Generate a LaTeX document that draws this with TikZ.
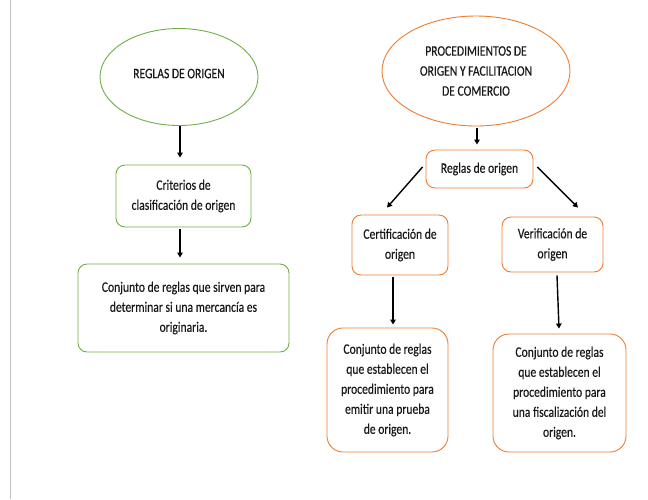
\documentclass[tikz,border=0pt]{standalone}
\usepackage{fontspec}
\setmainfont[FakeStretch=0.8,FakeBold=0.4]{Carlito}
\usetikzlibrary{shapes.geometric,arrows.meta}
\definecolor{gborder}{HTML}{70AD47}
\definecolor{oborder}{HTML}{ED7D31}
\definecolor{edgegray}{HTML}{BFBFBF}
\tikzset{
  txt/.style={font=\fontsize{14.5}{20}\selectfont, text=black!90, align=center, inner sep=0pt},
  gell/.style={txt, ellipse, draw=gborder, line width=0.9pt},
  oell/.style={txt, ellipse, draw=oborder, line width=0.9pt},
  gbox/.style={txt, rectangle, rounded corners=9pt, draw=gborder, line width=0.9pt},
  obox/.style={txt, rectangle, rounded corners=9pt, draw=oborder, line width=0.9pt},
  obig/.style={obox, rounded corners=16pt},
  arr/.style={line width=1.4pt, -{Triangle[width=5.5pt,length=5pt]}},
}
\begin{document}
\begin{tikzpicture}[x=1pt,y=-1pt]
\useasboundingbox (0,0) rectangle (648,499);
\draw[edgegray, line width=0.6pt] (10,0) -- (10,499);
% left column
\node[gell, minimum width=158pt, minimum height=97pt] (re) at (179,77) {\raisebox{7pt}{REGLAS DE ORIGEN}};
\node[gbox, minimum width=135pt, minimum height=62pt] (cr) at (183.5,196) {Criterios de\\clasificación de origen};
\node[gbox, minimum width=211pt, minimum height=88pt] (cj) at (183.5,308) {Conjunto de reglas que sirven para\\determinar si una mercancía es\\originaria.};
% right column
\node[oell, minimum width=188pt, minimum height=110pt] (pr) at (476,71) {PROCEDIMIENTOS DE\\ORIGEN Y FACILITACION\\DE COMERCIO};
\node[obox, minimum width=107pt, minimum height=38pt] (rg) at (479.5,169) {Reglas de origen};
\node[obox, minimum width=96pt, minimum height=60pt] (ce) at (400,245) {Certificación de\\origen};
\node[obox, minimum width=101pt, minimum height=55pt] (ve) at (552.5,244.5) {Verificación de\\origen};
\node[obig, minimum width=121pt, minimum height=124pt] (bl) at (387.5,390) {Conjunto de reglas\\que establecen el\\procedimiento para\\emitir una prueba\\de origen.};
\node[obig, minimum width=133pt, minimum height=118pt] (br) at (559.5,393) {Conjunto de reglas\\que establecen el\\procedimiento para\\una fiscalización del\\origen.};
% arrows
\draw[arr, shorten >=7pt] ([xshift=1pt]re.south) -- ([xshift=-3.5pt]cr.north);
\draw[arr, shorten <=2pt, shorten >=6pt] ([xshift=-3.5pt]cr.south) -- ([xshift=-3.5pt]cj.north);
\draw[arr, shorten <=2pt, shorten >=5pt] ([xshift=1pt]pr.south) -- ([xshift=-2.5pt]rg.north);
\draw[arr] ([xshift=-3pt,yshift=2pt]rg.west) -- ([xshift=-13pt,yshift=7pt]ce.north);
\draw[arr] ([xshift=4pt,yshift=2pt]rg.east) -- ([xshift=25.5pt,yshift=9pt]ve.north);
\draw[arr] ([xshift=-7pt,yshift=-2pt]ce.south) -- ([xshift=5.5pt,yshift=3pt]bl.north);
\draw[arr] ([xshift=4.5pt,yshift=-3pt]ve.south) -- ([xshift=-0.5pt,yshift=5pt]br.north);
\end{tikzpicture}
\end{document}
